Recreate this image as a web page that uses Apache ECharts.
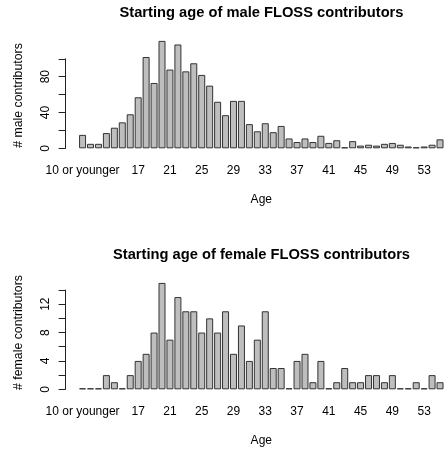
<!DOCTYPE html>
<html>
<head>
<meta charset="utf-8">
<script src="https://cdn.jsdelivr.net/npm/echarts@6/dist/echarts.min.js"></script>
<style>
  html, body { margin: 0; padding: 0; background: #fff; }
  #chart { width: 444px; height: 451px; }
</style>
</head>
<body>
<div id="chart"></div>
<script>
// ---- data ----
const categories = ["10 or younger", "11", "12", "13", "14", "15", "16", "17", "18", "19",
  "20", "21", "22", "23", "24", "25", "26", "27", "28", "29",
  "30", "31", "32", "33", "34", "35", "36", "37", "38", "39",
  "40", "41", "42", "43", "44", "45", "46", "47", "48", "49",
  "50", "51", "52", "53", "54", "55"];
const maleCounts = [15, 5, 5, 17, 23, 29, 38, 57, 102, 73,
  120, 88, 116, 86, 95, 82, 70, 52, 37, 53,
  53, 27, 19, 28, 18, 25, 11, 7, 11, 7,
  14, 6, 9, 1, 8, 3, 4, 3, 5, 6,
  4, 2, 0, 2, 4, 10];
const femaleCounts = [0, 0, 0, 2, 1, 0, 2, 4, 5, 8,
  15, 7, 13, 11, 11, 8, 10, 8, 11, 5,
  9, 4, 7, 11, 3, 3, 0, 4, 5, 1,
  4, 0, 1, 3, 1, 1, 2, 2, 1, 2,
  0, 0, 1, 0, 2, 1];
const shownLabels = ["10 or younger", "17", "21", "25", "29", "33", "37", "41", "45", "49", "53"];
const titles = ["Starting age of male FLOSS contributors", "Starting age of female FLOSS contributors"];
const yNames = ["# male contributors", "# female contributors"];
const xName = "Age";

// ---- chart ----
const FONT = '"Liberation Sans", Arial, Helvetica, sans-serif';
const chart = echarts.init(document.getElementById('chart'), null, { renderer: 'canvas' });

function xAxisFor(gridIndex) {
  return {
    type: 'category', gridIndex: gridIndex, data: categories,
    axisLine: { show: false }, axisTick: { show: false },
    axisLabel: {
      interval: 0,
      formatter: v => shownLabels.indexOf(v) >= 0 ? v : '',
      fontFamily: FONT, fontSize: 12, color: '#000', margin: 16
    },
    name: xName, nameLocation: 'middle', nameGap: 45,
    nameTextStyle: { fontFamily: FONT, fontSize: 12, color: '#000' },
    splitLine: { show: false }
  };
}
function yAxisFor(gridIndex, max, interval, labelStep) {
  return {
    type: 'value', gridIndex: gridIndex, min: 0, max: max, interval: interval,
    offset: 13,
    axisLine: { show: true, lineStyle: { color: '#222', width: 1 } },
    axisTick: { show: true, length: 7, lineStyle: { color: '#222', width: 1 } },
    axisLabel: {
      rotate: 90, margin: 14,
      formatter: v => (v % labelStep === 0 ? String(v) : ''),
      fontFamily: FONT, fontSize: 12, color: '#000',
      showMaxLabel: true, showMinLabel: true
    },
    splitLine: { show: false }
  };
}
function barSeries(idx, data) {
  return {
    type: 'bar', xAxisIndex: idx, yAxisIndex: idx, data: data,
    barWidth: 7, clip: false, barMinHeight: 1,
    itemStyle: { color: '#bebebe', borderColor: '#333', borderWidth: 1 },
    animation: false, silent: true
  };
}

const option = {
  animation: false,
  backgroundColor: '#fff',
  grid: [
    { left: 78.6, width: 365.7, top: 58.8, height: 89.5, containLabel: false },
    { left: 78.6, width: 365.7, top: 290, height: 99.3, containLabel: false }
  ],
  xAxis: [xAxisFor(0), xAxisFor(1)],
  yAxis: [yAxisFor(0, 100, 20, 40), yAxisFor(1, 14, 2, 4)],
  series: [barSeries(0, maleCounts), barSeries(1, femaleCounts)],
  graphic: [
    { type: 'text', x: 261.5, y: 13, style: { text: titles[0], fontFamily: FONT, fontSize: 14.7, fontWeight: 'bold', fill: '#000', align: 'center', verticalAlign: 'middle' } },
    { type: 'text', x: 261.5, y: 254.5, style: { text: titles[1], fontFamily: FONT, fontSize: 14.7, fontWeight: 'bold', fill: '#000', align: 'center', verticalAlign: 'middle' } },
    { type: 'text', x: 18.5, y: 95.5, rotation: Math.PI / 2, style: { text: yNames[0], fontFamily: FONT, fontSize: 12.3, fill: '#000', align: 'center', verticalAlign: 'middle' } },
    { type: 'text', x: 18.5, y: 332.5, rotation: Math.PI / 2, style: { text: yNames[1], fontFamily: FONT, fontSize: 12.3, fill: '#000', align: 'center', verticalAlign: 'middle' } }
  ]
};
chart.setOption(option);
</script>
</body>
</html>
